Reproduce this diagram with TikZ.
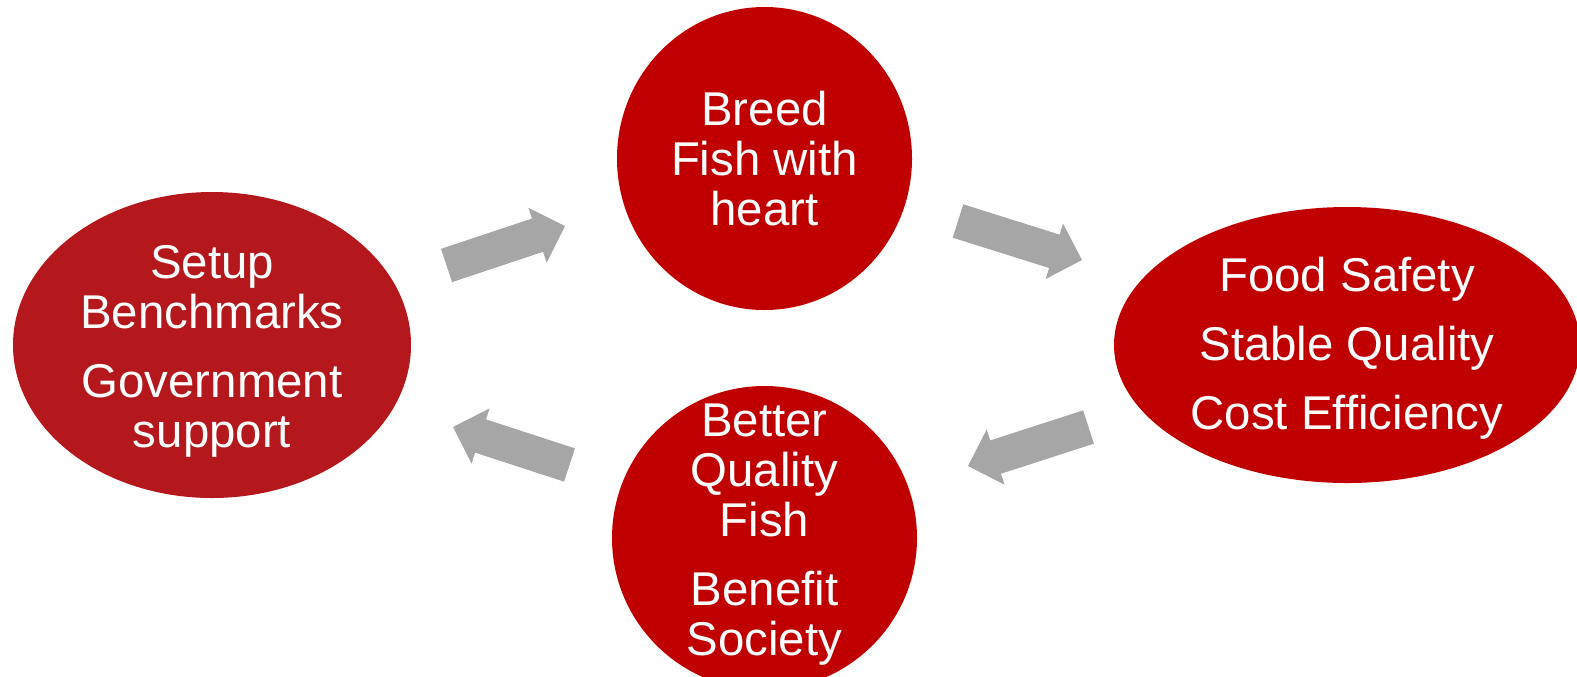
\documentclass[tikz,border=0pt]{standalone}
\usepackage{fontspec}
\setmainfont{Liberation Sans}
\usetikzlibrary{shapes, positioning, calc}
\definecolor{darkred}{HTML}{C00000}
\definecolor{brickred}{HTML}{B4181C}
\definecolor{arrowgray}{HTML}{A6A6A6}
\tikzset{bubble/.style={ellipse, fill=darkred, inner sep=0pt},
         caption/.style={text=white, align=center, font=\fontsize{23.7}{25}\selectfont}}

\begin{document}
\begin{tikzpicture}[x=0.5pt, y=-0.5pt]
  \useasboundingbox (0, 0) rectangle (1577, 676);

  % the four bubbles
  \node [bubble, fill=brickred, minimum width=199pt, minimum height=153pt] (setup) at (212, 345) {};
  \node [bubble, minimum width=147.5pt, minimum height=151.5pt] (breed) at (764.5, 158.5) {};
  \node [bubble, minimum width=233pt, minimum height=138pt] (safety) at (1347, 345) {};
  \node [bubble, minimum width=152.5pt, minimum height=152pt] (fish) at (764.5, 538) {};

  \node [caption, yshift=-3pt] (setup-text) at (setup) {Setup\\Benchmarks\\[9.5pt]Government\\support};
  \node [caption] (breed-text) at (breed) {Breed\\Fish with\\heart};
  \node [caption, yshift=-1.5pt] (safety-text) at (safety) {Food Safety\\[9.5pt]Stable Quality\\[9.5pt]Cost Efficiency};
  \node [caption, yshift=1.5pt] (fish-text) at (fish) {Better\\Quality\\Fish\\[9.5pt]Benefit\\Society};

  % block arrows round the cycle: tail (a) to tip (b)
  \coordinate (a1) at (446.5, 265.5);  \coordinate (b1) at (565, 226);
  \coordinate (a2) at (958, 221);      \coordinate (b2) at (1082, 260);
  \coordinate (a3) at (1088.5, 427);   \coordinate (b3) at (968, 466);
  \coordinate (a4) at (569.5, 465);    \coordinate (b4) at (453, 427);
  \foreach \i in {1,...,4}
    \fill [arrowgray] ($(a\i)!8.75pt!90:(b\i)$)
      -- ($(b\i)!14.5pt!(a\i)!8.75pt!90:(b\i)$)
      -- ($(b\i)!14.5pt!(a\i)!14.5pt!90:(b\i)$)
      -- (b\i)
      -- ($(b\i)!14.5pt!(a\i)!14.5pt!-90:(b\i)$)
      -- ($(b\i)!14.5pt!(a\i)!8.75pt!-90:(b\i)$)
      -- ($(a\i)!8.75pt!-90:(b\i)$) -- cycle;
\end{tikzpicture}
\end{document}
